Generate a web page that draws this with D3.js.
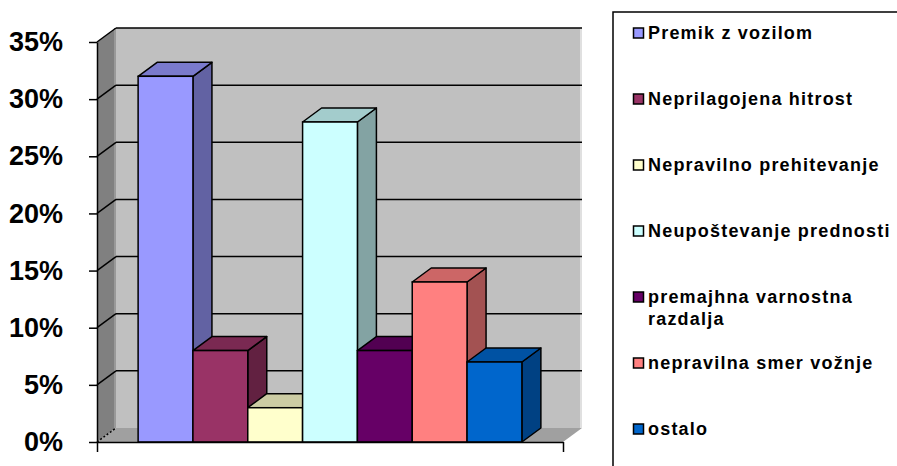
<!DOCTYPE html>
<html>
<head>
<meta charset="utf-8">
<script src="https://cdn.jsdelivr.net/npm/d3@7"></script>
<style>
  body { margin: 0; background: #fff; }
  svg { display: block; font-family: "Liberation Sans", Arial, sans-serif; }
  .axis path, .axis line { stroke: #000; stroke-width: 1.5; }
  .axis text { font-size: 27px; font-weight: bold; fill: #000; }
  .legend text { font-size: 18px; font-weight: bold; fill: #000; letter-spacing: 1.2px; }
</style>
</head>
<body>
<svg id="chart" width="897" height="466"></svg>
<script>
// data
var series = ["Premik z vozilom", "Neprilagojena hitrost", "Nepravilno prehitevanje",
  "Neupoštevanje prednosti", "premajhna varnostna razdalja", "nepravilna smer vožnje", "ostalo"];
var values = [32, 8, 3, 28, 8, 14, 7];
var colors = ["#9999FF", "#993366", "#FFFFCC", "#CCFFFF", "#660066", "#FF8080", "#0066CC"];
var yTicks = [0, 5, 10, 15, 20, 25, 30, 35];
// legend label lines (long one wraps)
var legendLines = [["Premik z vozilom"], ["Neprilagojena hitrost"], ["Nepravilno prehitevanje"],
  ["Neupoštevanje prednosti"], ["premajhna varnostna", "razdalja"], ["nepravilna smer vožnje"], ["ostalo"]];

var svg = d3.select("#chart");

var pl = 97, pr = 563, pt = 42, pb = 442;
var dx = 19, dy = 14; // 3d depth

var y = d3.scaleLinear().domain([0, 35]).range([pb, pt]);
var x = d3.scaleBand().domain(series).range([pl, pr]).paddingOuter(0.75).paddingInner(0);

function shade(c, k) {
  var r = d3.rgb(c);
  return d3.rgb(r.r * k, r.g * k, r.b * k).formatHex();
}
function poly(pts) { return "M" + pts.map(function(p) { return p.join(","); }).join("L") + "Z"; }

var plot = svg.append("g");

// back wall
plot.append("path")
  .attr("d", poly([[pl + dx, y(35) - dy], [pr + dx, y(35) - dy], [pr + dx, y(0) - dy], [pl + dx, y(0) - dy]]))
  .attr("fill", "#C0C0C0");
plot.append("line")
  .attr("x1", pr + dx - 1).attr("x2", pr + dx - 1)
  .attr("y1", y(35) - dy).attr("y2", y(0) - dy)
  .attr("stroke", "#e0e0e0").attr("stroke-width", 2);

// side wall
plot.append("path")
  .attr("d", poly([[pl, y(35)], [pl + dx, y(35) - dy], [pl + dx, y(0) - dy], [pl, y(0)]]))
  .attr("fill", "#808080");
plot.append("line")
  .attr("x1", pl + dx - 1).attr("x2", pl + dx - 1)
  .attr("y1", y(35) - dy).attr("y2", y(0) - dy)
  .attr("stroke", "#999").attr("stroke-width", 2);

// floor
plot.append("path")
  .attr("d", poly([[pl, y(0)], [pl + dx, y(0) - dy], [pr + dx, y(0) - dy], [pr, y(0)]]))
  .attr("fill", "#A0A0A0");

// gridlines
var grid = yTicks.filter(function(d) { return d > 0; });
plot.selectAll(".gridback").data(grid).enter().append("line")
  .attr("x1", pl + dx).attr("x2", pr + dx)
  .attr("y1", function(d) { return y(d) - dy; })
  .attr("y2", function(d) { return y(d) - dy; })
  .attr("stroke", "#000").attr("stroke-width", 1.5);
plot.selectAll(".gridside").data(yTicks).enter().append("line")
  .attr("x1", pl).attr("x2", pl + dx)
  .attr("y1", function(d) { return y(d); })
  .attr("y2", function(d) { return y(d) - dy; })
  .attr("stroke", "#000").attr("stroke-width", 1.5)
  .attr("stroke-dasharray", function(d) { return d === 0 ? "2,2" : null; });

// bars
var bars = plot.selectAll(".bar").data(series).enter().append("g");
bars.each(function(s, i) {
  var g = d3.select(this);
  var x0 = x(s), x1 = x(s) + x.bandwidth();
  var yt = y(values[i]), yb = y(0);
  g.append("path")
    .attr("d", poly([[x1, yt], [x1 + dx, yt - dy], [x1 + dx, yb - dy], [x1, yb]]))
    .attr("fill", shade(colors[i], 0.64)).attr("stroke", "#000").attr("stroke-width", 1.5)
    .attr("stroke-linejoin", "round");
  g.append("path")
    .attr("d", poly([[x0, yt], [x0 + dx, yt - dy], [x1 + dx, yt - dy], [x1, yt]]))
    .attr("fill", shade(colors[i], 0.8)).attr("stroke", "#000").attr("stroke-width", 1.5)
    .attr("stroke-linejoin", "round");
  g.append("rect")
    .attr("x", x0).attr("y", yt).attr("width", x1 - x0).attr("height", yb - yt)
    .attr("fill", colors[i]).attr("stroke", "#000").attr("stroke-width", 1.5);
});

// axes
svg.append("g").attr("class", "axis")
  .attr("transform", "translate(" + pl + ",0)")
  .call(d3.axisLeft(y).tickValues(yTicks).tickSize(8).tickSizeOuter(0).tickPadding(26)
    .tickFormat(function(d) { return d + "%"; }));

var xl = d3.scaleLinear().domain([0, 1]).range([pl, pr]);
svg.append("g").attr("class", "axis")
  .attr("transform", "translate(0," + pb + ")")
  .call(d3.axisBottom(xl).tickValues([0, 1]).tickSize(10).tickSizeOuter(0).tickFormat(""));

// legend
var legend = svg.append("g").attr("class", "legend");
legend.append("rect")
  .attr("x", 613).attr("y", 12).attr("width", 320).attr("height", 480)
  .attr("fill", "#fff").attr("stroke", "#000").attr("stroke-width", 1.5);

var ly = d3.scalePoint().domain(series).range([33, 429]);
var items = legend.selectAll(".item").data(series).enter().append("g")
  .attr("transform", function(d) { return "translate(633," + ly(d) + ")"; });
items.append("rect")
  .attr("x", 0.5).attr("y", -5).attr("width", 10).attr("height", 10)
  .attr("fill", function(d, i) { return colors[i]; })
  .attr("stroke", "#000").attr("stroke-width", 1.5);
items.each(function(d, i) {
  var t = d3.select(this).append("text").attr("x", 15).attr("y", 0);
  legendLines[i].forEach(function(line, j) {
    t.append("tspan").attr("x", 15).attr("dy", j === 0 ? "0.35em" : "1.2em").text(line);
  });
});
</script>
</body>
</html>
